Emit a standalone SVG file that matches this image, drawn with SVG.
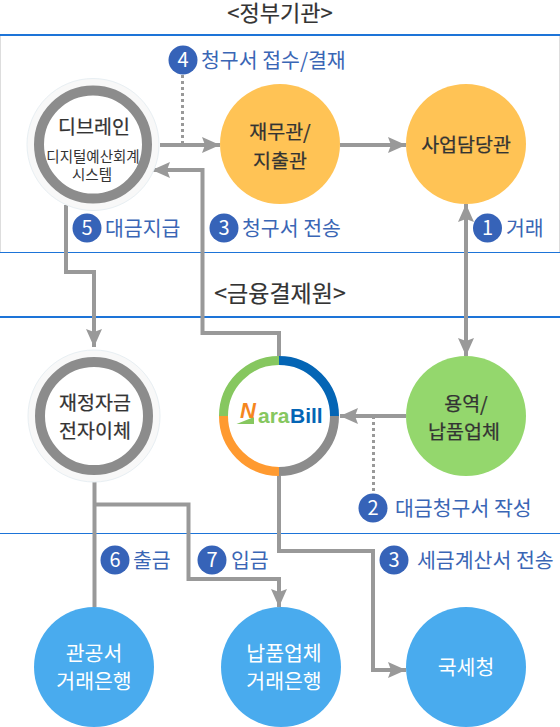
<svg xmlns="http://www.w3.org/2000/svg" width="560" height="727" viewBox="0 0 560 727">
<style>
text{font-family:"Noto Sans CJK KR","Noto Sans",sans-serif;text-anchor:middle}
.h{font-size:22px;fill:#333;stroke:#333;stroke-width:.2}
.n{font-size:19.500px;fill:#333;stroke:#333;stroke-width:.25}
.w{font-size:20.500px;fill:#fff}
.s{font-size:14.500px;fill:#333}
.l{font-size:20.500px;fill:#3a66b5;text-anchor:start}
.b{font-size:20px;fill:#fff}
.lg{font-family:"Liberation Sans",sans-serif;font-weight:700;text-anchor:start}
.c{fill:none;stroke:#999;stroke-width:4}
.d{fill:none;stroke:#999;stroke-width:3;stroke-dasharray:3 3}
.ln{stroke:#1d74d8}
.badge{fill:#3663b8}
</style>
<defs>
<marker id="a" markerUnits="userSpaceOnUse" markerWidth="18" markerHeight="16" refX="18" refY="8" orient="auto"><path d="M0 0L18 8L0 16L3 8Z" fill="#999"/></marker>
<marker id="as" markerUnits="userSpaceOnUse" markerWidth="18" markerHeight="16" refX="0" refY="8" orient="auto"><path d="M18 0L0 8L18 16L15 8Z" fill="#999"/></marker>
</defs>
<g id="frame">
<path d="M0.500 35V252M559.500 35V252" stroke="#ddd" fill="none"/>
<path class="ln" d="M0 35H560M0 317H560" stroke-width="2" fill="none"/>
<path class="ln" d="M0 252.500H560M0 533.500H560" fill="none"/>
<text class="h" x="280" y="21">&lt;정부기관&gt;</text>
<text class="h" x="280" y="302" style="font-size:23px">&lt;금융결제원&gt;</text>
</g>
<g id="connectors">
<path class="d" d="M182.500 75V144"/>
<path class="d" d="M373.500 416V493"/>
<path class="c" d="M160 145H220" marker-end="url(#a)"/>
<path class="c" d="M340 145H406" marker-end="url(#a)"/>
<path class="c" d="M279 356V333H202.500V170H152" marker-end="url(#a)"/>
<path class="c" d="M466 204V356" marker-start="url(#as)" marker-end="url(#a)"/>
<path class="c" d="M406 416H340" marker-end="url(#a)"/>
<path class="c" d="M66 205V272H94V347" marker-end="url(#a)"/>
<path class="c" d="M94.500 476V607"/>
<path class="c" d="M94.500 504.500H188.500V579H279V607" marker-end="url(#a)"/>
<path class="c" d="M279 476V551H373V670H406" marker-end="url(#a)"/>
</g>
<g id="n-dbrain">
<circle cx="93" cy="144.500" r="66" fill="#f8f8f8" stroke="#e8eff3"/>
<circle cx="93" cy="144.500" r="54" fill="#fff" stroke="#8c8c8c" stroke-width="10"/>
<text class="n" x="94" y="134">디브레인</text>
<text class="s" x="93" y="162">디지털예산회계</text>
<text class="s" x="92" y="180">시스템</text>
</g>
<g id="n-finance"><circle cx="280" cy="144" r="60" fill="#ffc355"/>
<text class="n" x="280" y="139">재무관/</text><text class="n" x="280" y="168">지출관</text></g>
<g id="n-business"><circle cx="466" cy="144" r="60" fill="#ffc355"/>
<text class="n" x="466" y="152">사업담당관</text></g>
<g id="n-transfer">
<circle cx="94" cy="416" r="66" fill="#f8f8f8" stroke="#e8eff3"/>
<circle cx="94" cy="416" r="54" fill="#fff" stroke="#8c8c8c" stroke-width="10"/>
<text class="n" x="95" y="410">재정자금</text><text class="n" x="95" y="438">전자이체</text></g>
<g id="n-narabill">
<circle cx="279" cy="416" r="60" fill="#fff"/>
<g fill="none" stroke-width="9">
<path d="M279 360.500A55.500 55.500 0 0 1 334.500 416" stroke="#0465b5"/>
<path d="M334.500 416A55.500 55.500 0 0 1 279 471.500" stroke="#8c8c8c"/>
<path d="M279 471.500A55.500 55.500 0 0 1 223.500 416" stroke="#ff9a30"/>
<path d="M223.500 416A55.500 55.500 0 0 1 279 360.500" stroke="#86c75f"/>
</g>
<path d="M236.500 424L254 417V424Z" fill="#86c75f"/>
<text class="lg" x="240" y="418" font-size="22" font-style="italic" fill="#f5861f">N</text>
<text class="lg" x="258" y="423" font-size="21" fill="#86c75f">ara</text>
<text class="lg" x="290" y="423" font-size="21" fill="#0465b5">Bill</text>
</g>
<g id="n-vendor"><circle cx="466" cy="416" r="60" fill="#94d76d"/>
<text class="n" x="466" y="411">용역/</text><text class="n" x="464" y="439">납품업체</text></g>
<g id="n-govbank"><circle cx="94" cy="667" r="60" fill="#49abee"/>
<text class="w" x="94" y="661">관공서</text><text class="w" x="94" y="689">거래은행</text></g>
<g id="n-vendorbank"><circle cx="281" cy="667" r="60" fill="#49abee"/>
<text class="w" x="284" y="661">납품업체</text><text class="w" x="284" y="689">거래은행</text></g>
<g id="n-nts"><circle cx="466" cy="667" r="60" fill="#49abee"/>
<text class="w" x="466" y="675">국세청</text></g>
<g id="labels">
<circle class="badge" cx="183" cy="60" r="14.500"/><text class="b" x="183" y="67">4</text><text class="l" x="201" y="68">청구서 접수/결재</text>
<circle class="badge" cx="87" cy="228" r="14.500"/><text class="b" x="87" y="235">5</text><text class="l" x="105" y="236">대금지급</text>
<circle class="badge" cx="224" cy="228" r="14.500"/><text class="b" x="224" y="235">3</text><text class="l" x="242" y="236">청구서 전송</text>
<circle class="badge" cx="487.500" cy="228" r="14.500"/><text class="b" x="487.500" y="235">1</text><text class="l" x="506" y="236">거래</text>
<circle class="badge" cx="373" cy="508" r="14.500"/><text class="b" x="373" y="515">2</text><text class="l" x="395" y="516">대금청구서 작성</text>
<circle class="badge" cx="394" cy="560" r="14.500"/><text class="b" x="394" y="567">3</text><text class="l" x="417" y="568">세금계산서 전송</text>
<circle class="badge" cx="115" cy="560" r="14.500"/><text class="b" x="115" y="567">6</text><text class="l" x="133" y="568">출금</text>
<circle class="badge" cx="212" cy="560" r="14.500"/><text class="b" x="212" y="567">7</text><text class="l" x="231" y="568">입금</text>
</g>
</svg>
